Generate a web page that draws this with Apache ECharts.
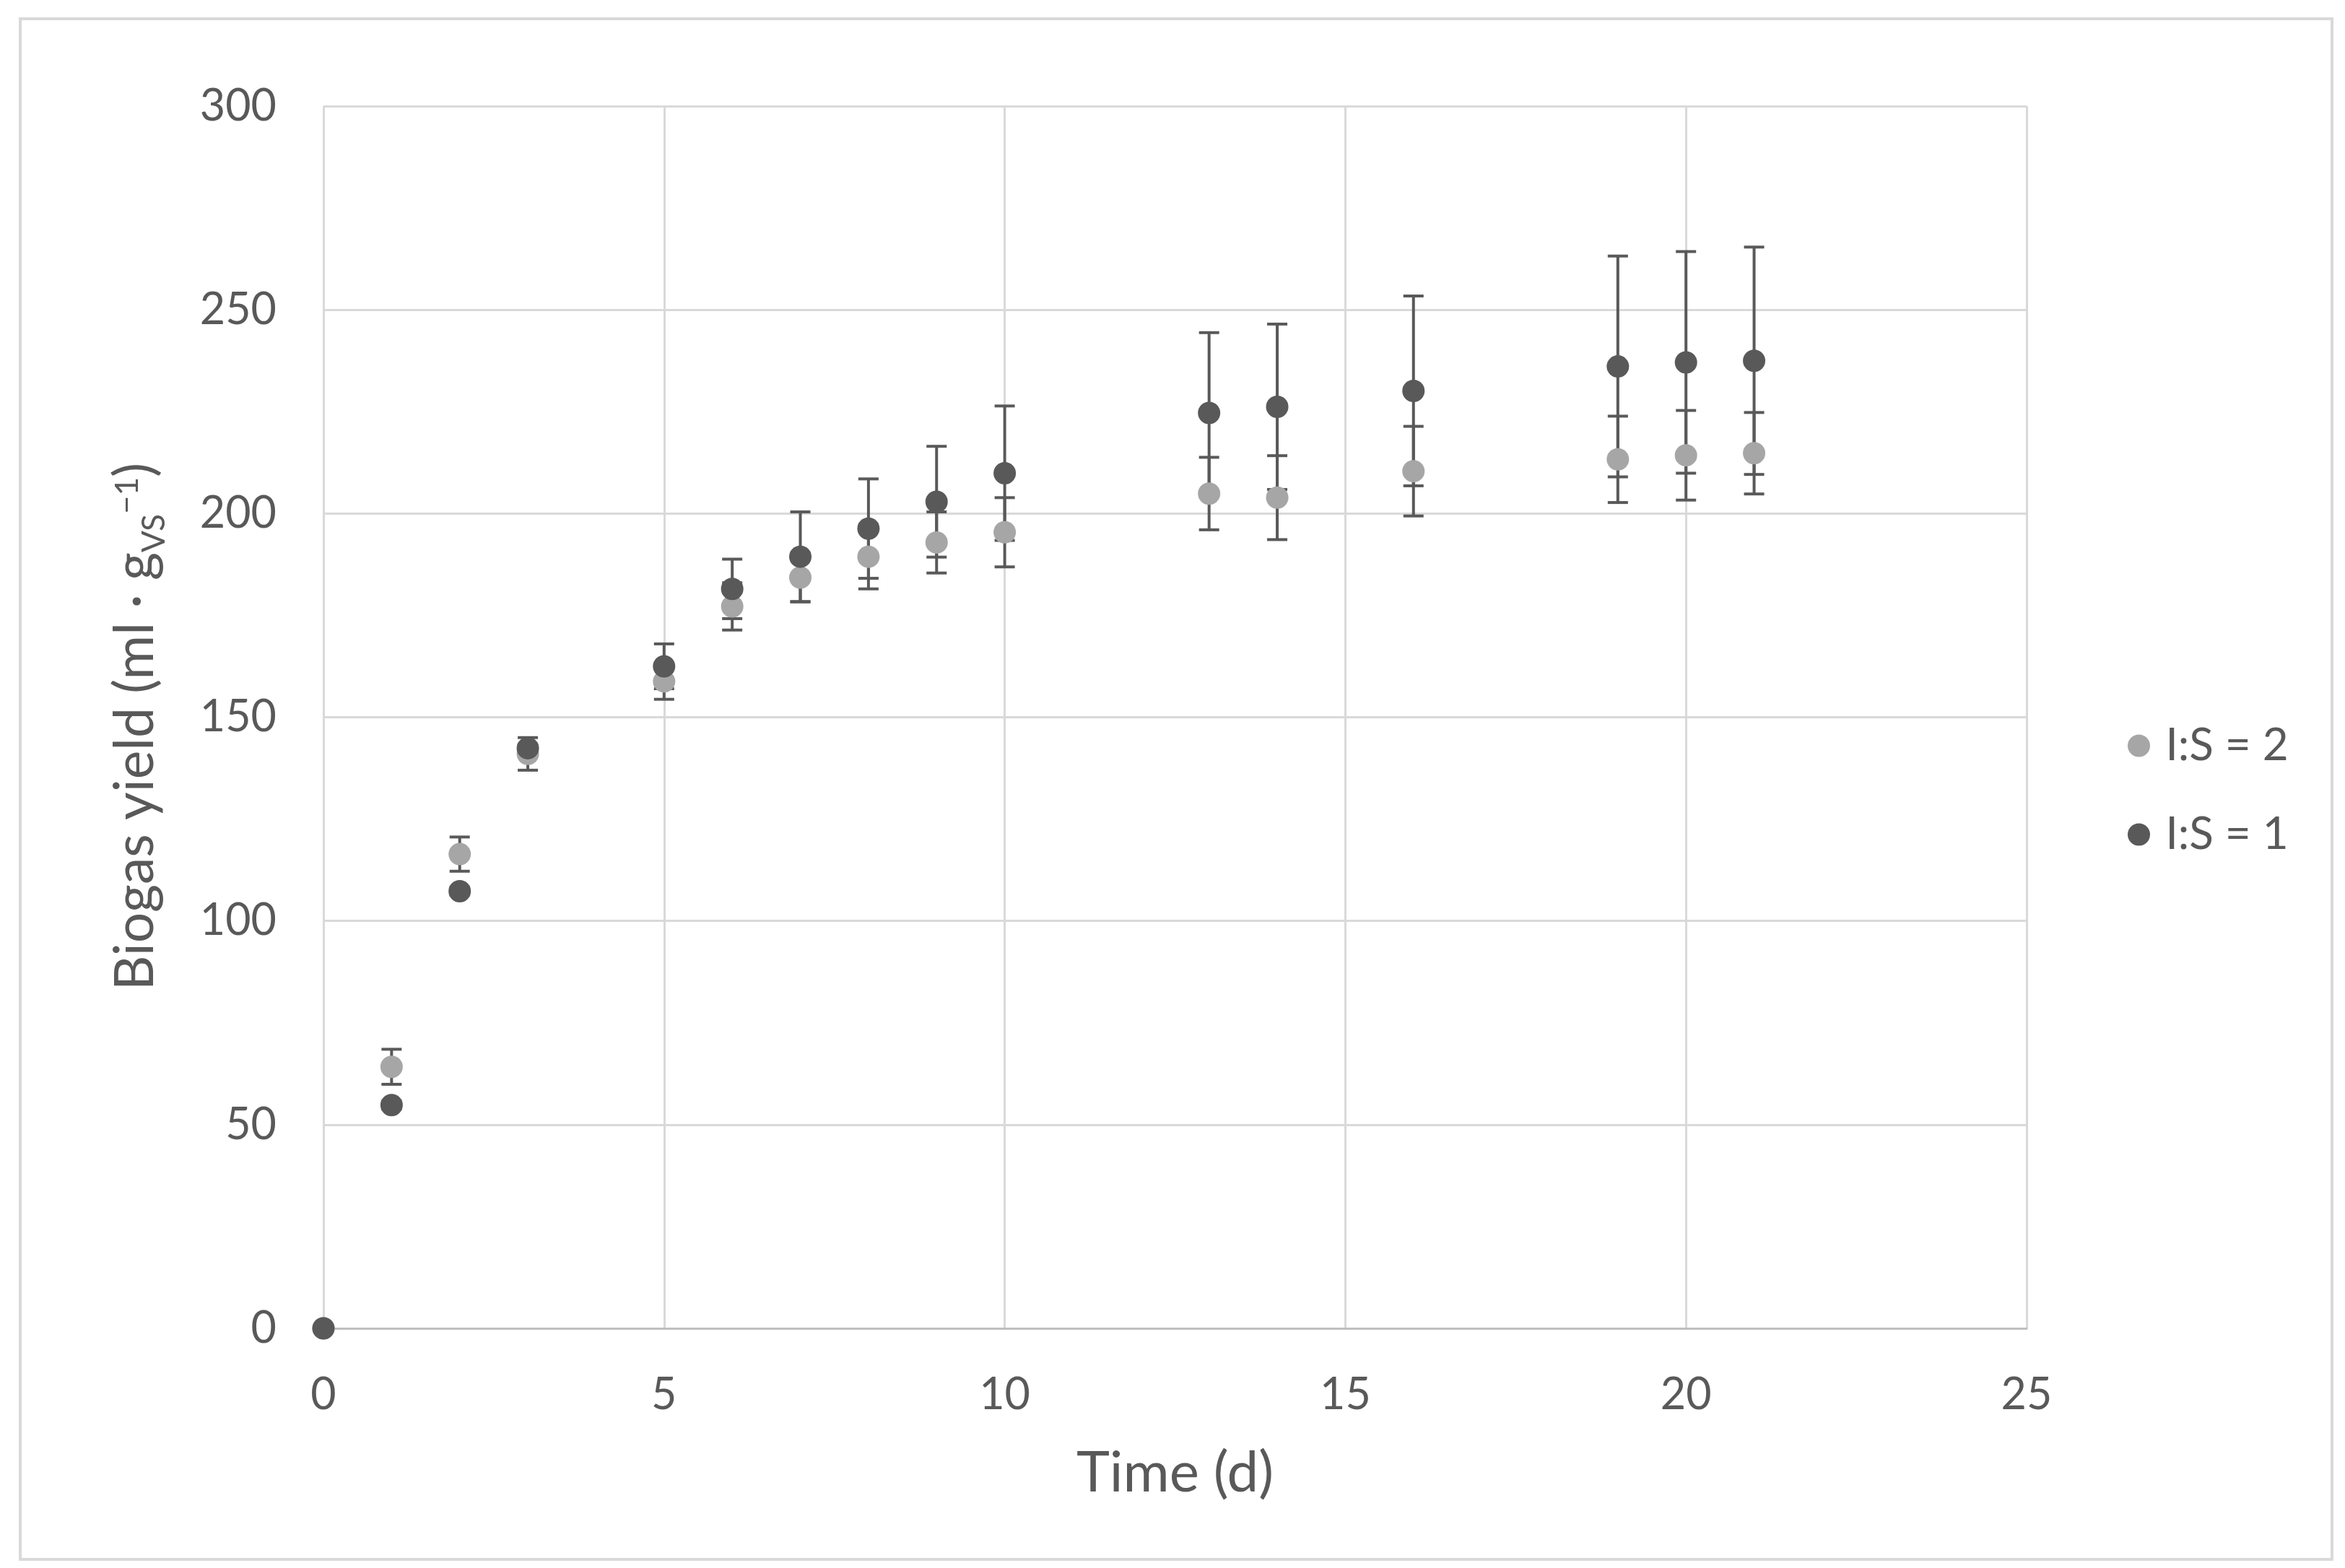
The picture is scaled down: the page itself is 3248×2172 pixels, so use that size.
<!DOCTYPE html>
<html>
<head>
<meta charset="utf-8">
<script src="https://cdn.jsdelivr.net/npm/echarts@6/dist/echarts.min.js"></script>
<style>
html,body{margin:0;padding:0;background:#fff;}
#chart{width:3248px;height:2172px;}
</style>
</head>
<body>
<div id="chart"></div>
<script>
// Time (d)
const times = [0, 1, 2, 3, 5, 6, 7, 8, 9, 10, 13, 14, 16, 19, 20, 21];
// I:S = 2 (light gray) mean and error
const is2Mean = [0, 64.2, 116.4, 141.0, 158.8, 177.2, 184.3, 189.4, 192.9, 195.4, 204.9, 203.9, 210.4, 213.3, 214.3, 214.8];
const is2Err  = [0, 4.3, 4.2, 4.0, 4.4, 5.8, 6.0, 7.9, 7.5, 8.5, 8.9, 10.3, 11.0, 10.6, 11.0, 10.0];
// I:S = 1 (dark gray) mean and error
const is1Mean = [0, 54.8, 107.3, 142.4, 162.5, 181.5, 189.4, 196.3, 202.9, 209.9, 224.7, 226.2, 230.1, 236.1, 237.1, 237.5];
const is1Err  = [0, 1.0, 1.0, 1.0, 5.5, 7.3, 11.0, 12.2, 13.6, 16.5, 19.7, 20.3, 23.3, 27.1, 27.2, 27.9];
const seriesNames = ['I:S = 2', 'I:S = 1'];
const xTicks = [0, 5, 10, 15, 20, 25];
const yTicks = [0, 50, 100, 150, 200, 250, 300];

const FONT = 'Lato';
const TXT = '#595959';
const LIGHT = '#a6a6a6';
const DARK = '#595959';

function pts(means) { return times.map((t, i) => [t, means[i]]); }
function errPts(means, errs) { return times.map((t, i) => [t, means[i], errs[i]]); }

function errRender(params, api) {
  const x = api.value(0), y = api.value(1), e = api.value(2);
  if (!e) return null;
  const top = api.coord([x, y + e]);
  const bot = api.coord([x, y - e]);
  const hw = 14;
  const style = { stroke: '#595959', lineWidth: 4 };
  return {
    type: 'group',
    children: [
      { type: 'line', shape: { x1: top[0], y1: top[1], x2: bot[0], y2: bot[1] }, style: style },
      { type: 'line', shape: { x1: top[0] - hw, y1: top[1], x2: top[0] + hw, y2: top[1] }, style: style },
      { type: 'line', shape: { x1: bot[0] - hw, y1: bot[1], x2: bot[0] + hw, y2: bot[1] }, style: style }
    ]
  };
}

const chart = echarts.init(document.getElementById('chart'), null, { renderer: 'canvas' });
chart.setOption({
  backgroundColor: '#ffffff',
  animation: false,
  graphic: [{
    type: 'rect',
    shape: { x: 28, y: 26, width: 3202, height: 2134 },
    style: { fill: 'none', stroke: '#d9d9d9', lineWidth: 4 },
    z: -10
  }],
  grid: { left: 448, right: 441, top: 147, bottom: 332 },
  legend: {
    data: seriesNames,
    orient: 'vertical',
    left: 2942,
    top: 997,
    itemWidth: 64,
    itemHeight: 31,
    itemGap: 61,
    icon: 'circle',
    textStyle: { fontFamily: FONT, fontSize: 62, color: TXT }
  },
  xAxis: {
    type: 'value',
    min: xTicks[0],
    max: xTicks[xTicks.length - 1],
    interval: 5,
    name: 'Time (d)',
    nameLocation: 'middle',
    nameGap: 162,
    nameTextStyle: { fontFamily: FONT, fontSize: 78, color: TXT },
    axisLine: { show: true, lineStyle: { color: '#bfbfbf', width: 3 } },
    axisTick: { show: false },
    axisLabel: { fontFamily: FONT, fontSize: 61, color: TXT, margin: 62 },
    splitLine: { show: true, lineStyle: { color: '#d9d9d9', width: 3 } }
  },
  yAxis: {
    type: 'value',
    min: yTicks[0],
    max: yTicks[yTicks.length - 1],
    interval: 50,
    name: '{m|Biogas yield (ml · g}{sub|VS}{sup|−1}{m|)}',
    nameLocation: 'middle',
    nameRotate: 90,
    nameGap: 212,
    nameTextStyle: {
      fontFamily: FONT, fontSize: 75, color: TXT,
      padding: [0, 26, 0, 0],
      rich: {
        m: { fontFamily: FONT, fontSize: 75, color: TXT },
        sub: { fontFamily: FONT, fontSize: 44, color: TXT, padding: [53, 0, 0, 0] },
        sup: { fontFamily: FONT, fontSize: 44, color: TXT, padding: [0, 0, 22, 0] }
      }
    },
    axisLine: { show: false },
    axisTick: { show: false },
    axisLabel: { fontFamily: FONT, fontSize: 61, color: TXT, margin: 65 },
    splitLine: { show: true, lineStyle: { color: '#d9d9d9', width: 3 } }
  },
  series: [
    {
      type: 'custom',
      name: 'err2',
      renderItem: errRender,
      data: errPts(is2Mean, is2Err),
      z: 1,
      encode: { x: 0, y: 1 }
    },
    {
      type: 'custom',
      name: 'err1',
      renderItem: errRender,
      data: errPts(is1Mean, is1Err),
      z: 1,
      encode: { x: 0, y: 1 }
    },
    {
      type: 'scatter',
      name: seriesNames[0],
      data: pts(is2Mean),
      symbol: 'circle',
      symbolSize: 31,
      itemStyle: { color: LIGHT, opacity: 1 },
      z: 3
    },
    {
      type: 'scatter',
      name: seriesNames[1],
      data: pts(is1Mean),
      symbol: 'circle',
      symbolSize: 31,
      itemStyle: { color: DARK, opacity: 1 },
      z: 4
    }
  ]
});
</script>
</body>
</html>
